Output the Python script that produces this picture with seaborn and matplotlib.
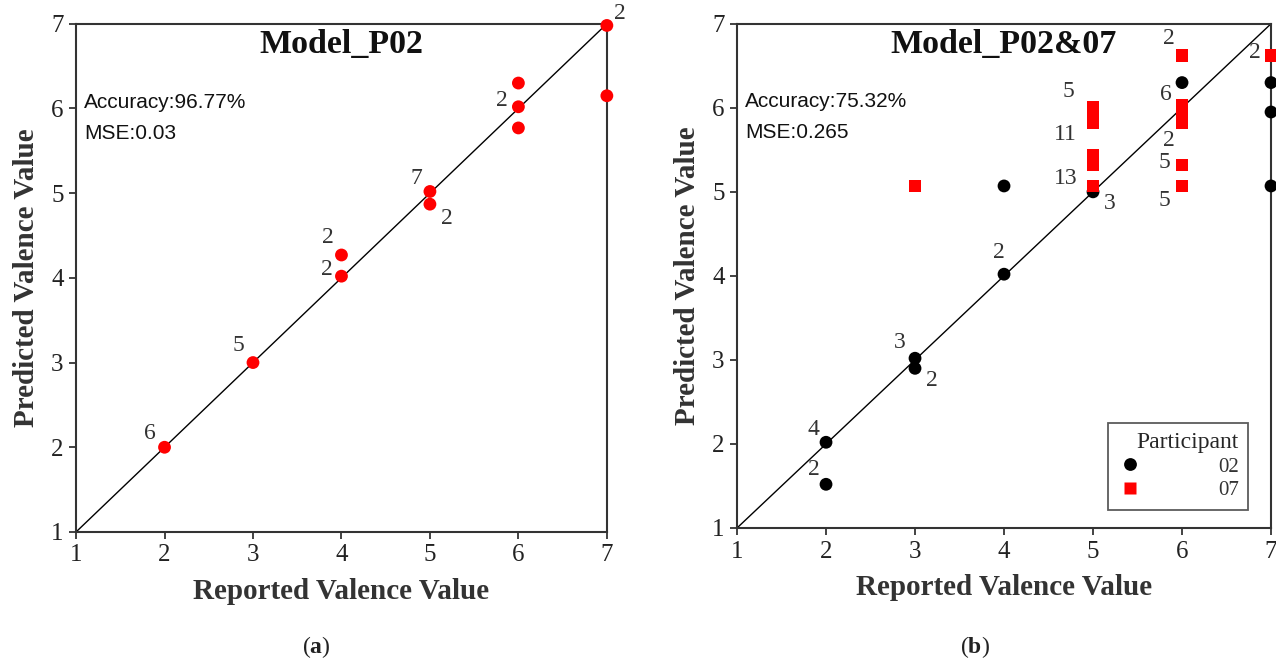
import seaborn as sns
import matplotlib.pyplot as plt
import pandas as pd
import matplotlib
matplotlib.use('Agg')

# Model_P02 (left)
a_reported = [2, 3, 4, 4, 5, 5, 6, 6, 6, 7, 7]
a_predicted = [2.0, 3.0, 4.02, 4.27, 5.02, 4.87, 6.02, 6.3, 5.77, 6.98, 6.15]
a_counts = ['6', '5', '2', '2', '7', '2', '2', '', '', '2', '']

# Model_P02&07 (right)
b_reported = [2, 2, 3, 3, 4, 4, 5, 6, 7, 7, 7,
              3, 5, 5, 5, 5, 5, 5, 5, 6, 6, 6, 6, 6, 6, 7]
b_predicted = [2.02, 1.52, 3.02, 2.9, 4.02, 5.07, 5.0, 6.3, 6.3, 5.95, 5.07,
               5.07, 6.0, 5.95, 5.82, 5.43, 5.38, 5.32, 5.07, 6.62, 6.03, 5.95, 5.82, 5.32, 5.07, 6.62]
b_participant = ['02'] * 11 + ['07'] * 15

# count labels: (x, y, text, offset in points)
b_labels = [(2, 2.02, '4', (-13, 2)), (2, 1.52, '2', (-13, 3)),
            (3, 3.02, '3', (-15, 4)), (3, 2.9, '2', (8, -16)),
            (4, 4.02, '2', (-8, 8)), (5, 5.0, '3', (8, -16)),
            (5, 6.0, '5', (-22, 4)), (5, 5.43, '11', (-28, 8)),
            (5, 5.07, '13', (-28, -2)), (6, 6.62, '2', (-14, 5)),
            (6, 6.03, '6', (-16, 0)), (6, 5.82, '2', (-14, -20)),
            (6, 5.32, '5', (-17, -6)), (6, 5.07, '5', (-17, -18)),
            (7, 6.62, '2', (-16, -5))]
a_offsets = [(-15, 2), (-15, 5), (-15, -3), (-14, 5), (-14, 2), (8, -18),
             (-16, -3), None, None, (5, 1), None]

sns.set_theme(style="white")
plt.rcParams['font.family'] = ['Liberation Serif', 'DejaVu Serif']
plt.rcParams['mathtext.fontset'] = 'custom'
plt.rcParams['mathtext.bf'] = 'Liberation Serif:bold'
plt.rcParams['mathtext.rm'] = 'Liberation Serif'

fig = plt.figure(figsize=(12.76, 6.6), dpi=100)
ax1 = fig.add_axes([0.0596, 0.194, 0.416, 0.770])
ax2 = fig.add_axes([0.5776, 0.200, 0.4185, 0.764])


def style_axes(ax, title, acc, mse):
    ax.plot([1, 7], [1, 7], color='black', lw=1.0, zorder=1)
    ax.set_xlim(1, 7)
    ax.set_ylim(1, 7)
    ax.set_xticks(range(1, 8))
    ax.set_yticks(range(1, 8))
    ax.tick_params(direction='out', length=5, width=1.2, labelsize=18, colors='#222222',
                   bottom=True, left=True, top=False, right=False, pad=4)
    for sp in ax.spines.values():
        sp.set_color('#333333')
        sp.set_linewidth(1.5)
    ax.set_xlabel('Reported Valence Value', fontsize=21, fontweight='bold', color='#333333', labelpad=8)
    ax.set_ylabel('Predicted Valence Value', fontsize=21, fontweight='bold', color='#333333', labelpad=8)
    ax.text(0.5, 0.99, title, transform=ax.transAxes, ha='center', va='top',
            fontsize=24.5, fontweight='bold', color='#111111')
    ax.text(0.015, 0.845, 'Accuracy:' + acc, transform=ax.transAxes, ha='left', va='center',
            fontsize=15, family='Liberation Sans', color='#111111')
    ax.text(0.015, 0.785, 'MSE:' + mse, transform=ax.transAxes, ha='left', va='center',
            fontsize=15, family='Liberation Sans', color='#111111')


# left panel
df_a = pd.DataFrame({'reported': a_reported, 'predicted': a_predicted})
sns.scatterplot(data=df_a, x='reported', y='predicted', ax=ax1, color='#ff0000',
                s=85, edgecolor='none', clip_on=False, zorder=3)
for x, y, t, off in zip(a_reported, a_predicted, a_counts, a_offsets):
    if t:
        ax1.annotate(t, (x, y), xytext=off, textcoords='offset points',
                     fontsize=17, color='#333333', ha='left', va='bottom')
style_axes(ax1, 'Model_P02', '96.77%', '0.03')

# right panel
df_b = pd.DataFrame({'reported': b_reported, 'predicted': b_predicted,
                     'Participant': b_participant})
sns.scatterplot(data=df_b, x='reported', y='predicted', hue='Participant', style='Participant',
                palette={'02': 'black', '07': '#ff0000'}, markers={'02': 'o', '07': 's'},
                s=85, edgecolor='none', clip_on=False, zorder=3, ax=ax2)
for x, y, t, off in b_labels:
    ax2.annotate(t, (x, y), xytext=off, textcoords='offset points',
                 fontsize=17, color='#333333', ha='left', va='bottom')
style_axes(ax2, 'Model_P02&07', '75.32%', '0.265')

leg = ax2.legend(title='Participant', loc='lower right', bbox_to_anchor=(0.957, 0.036),
                 borderaxespad=0, fontsize=15, title_fontsize=17, frameon=True, fancybox=False,
                 edgecolor='#333333', handletextpad=3.6, borderpad=0.45, labelspacing=0.2,
                 handlelength=1.2)
leg.get_frame().set_linewidth(1.3)
leg._legend_box.align = 'right'
for t in leg.get_texts():
    t.set_color('#333333')

fig.text(0.248, 0.02, r'($\mathbf{a}$)', ha='center', va='center', fontsize=17, color='#222222')
fig.text(0.764, 0.02, r'($\mathbf{b}$)', ha='center', va='center', fontsize=17, color='#222222')

plt.savefig('out.png', dpi=100)
plt.close()
